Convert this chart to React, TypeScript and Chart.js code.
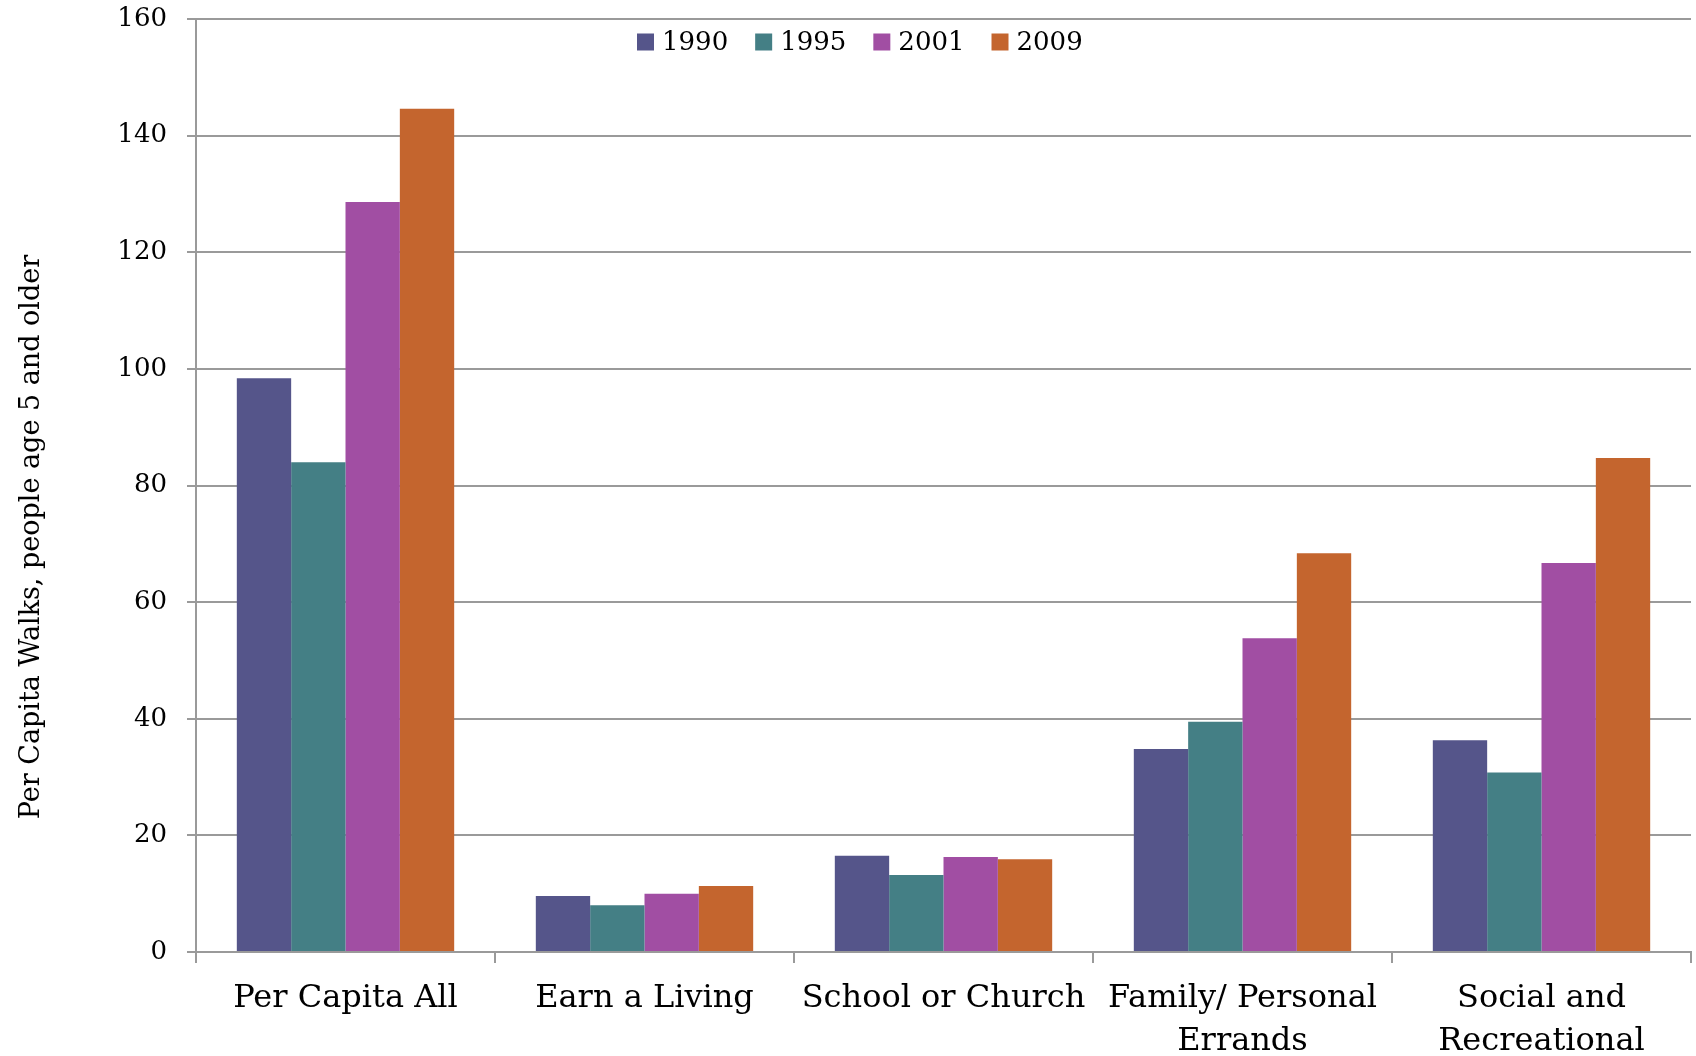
import React, { useEffect, useRef } from 'react';
import { Chart, registerables } from 'chart.js';
Chart.register(...registerables);

const categories: (string | string[])[] = [
  'Per Capita All',
  'Earn a Living',
  'School or Church',
  ['Family/ Personal', 'Errands'],
  ['Social and', 'Recreational'],
];
const seriesLabels = ['1990', '1995', '2001', '2009'];
const values1990 = [98.4, 9.6, 16.5, 34.8, 36.3];
const values1995 = [84.0, 8.0, 13.2, 39.5, 30.8];
const values2001 = [128.6, 10.0, 16.3, 53.8, 66.7];
const values2009 = [144.6, 11.3, 15.9, 68.4, 84.7];
const seriesColors = ['#55558A', '#447F85', '#A14EA3', '#C4652E'];
const yMin = 0;
const yMax = 160;
const yStep = 20;
const yAxisTitle = 'Per Capita Walks, people age 5 and older';

const FONT = '"DejaVu Serif", Georgia, serif';

const legendPlugin = {
  id: 'customLegend',
  afterDraw(chart: any) {
    const ctx = chart.ctx;
    ctx.save();
    ctx.font = `26px ${FONT}`;
    ctx.textBaseline = 'middle';
    let x = 637;
    const y = 42;
    chart.data.datasets.forEach((ds: any) => {
      ctx.fillStyle = ds.backgroundColor;
      ctx.fillRect(x, y - 8.5, 17, 17);
      x += 25;
      ctx.fillStyle = '#000';
      ctx.fillText(ds.label, x, y + 1);
      x += ctx.measureText(ds.label).width + 27;
    });
    // y-axis title
    ctx.font = `27px ${FONT}`;
    ctx.textAlign = 'center';
    ctx.fillStyle = '#000';
    ctx.translate(32, 537);
    ctx.rotate(-Math.PI / 2);
    ctx.fillText(yAxisTitle, 0, 0);
    ctx.restore();
  },
};

export default function App() {
  const ref = useRef<HTMLCanvasElement | null>(null);
  useEffect(() => {
    if (!ref.current) return;
    const allValues = [values1990, values1995, values2001, values2009];
    const chart = new Chart(ref.current, {
      type: 'bar',
      data: {
        labels: categories as any,
        datasets: seriesLabels.map((label, i) => ({
          label,
          data: allValues[i],
          backgroundColor: seriesColors[i],
          borderWidth: 0,
          categoryPercentage: 0.727,
          barPercentage: 1,
        })),
      },
      options: {
        responsive: false,
        animation: false,
        layout: { padding: { top: 19, right: 5, left: 0, bottom: 0 } },
        plugins: {
          legend: { display: false },
          tooltip: { enabled: false },
        },
        scales: {
          x: {
            offset: true,
            grid: {
              offset: true,
              drawOnChartArea: false,
              drawTicks: true,
              tickLength: 11,
              color: '#9a9a9a',
              lineWidth: 2,
            },
            border: { color: '#9a9a9a', width: 2 },
            ticks: {
              color: '#000',
              font: { family: FONT, size: 32, lineHeight: 1.35 },
              maxRotation: 0,
              minRotation: 0,
              autoSkip: false,
              padding: 14,
            },
            afterFit: (s: any) => {
              s.height = 104;
              s.paddingLeft = 0;
              s.paddingRight = 0;
            },
          },
          y: {
            min: yMin,
            max: yMax,
            ticks: {
              stepSize: yStep,
              color: '#000',
              font: { family: FONT, size: 26 },
              padding: 20,
            },
            grid: {
              color: '#9a9a9a',
              lineWidth: 2,
              drawTicks: true,
              tickLength: 9,
            },
            border: { color: '#9a9a9a', width: 2 },
            title: { display: false },
            afterFit: (s: any) => {
              s.width = 196;
              s.paddingTop = 0;
              s.paddingBottom = 0;
            },
          },
        },
      },
      plugins: [legendPlugin],
    });
    return () => chart.destroy();
  }, []);
  return (
    <div style={{ position: 'fixed', left: 0, top: 0, width: 1696, height: 1056, background: '#fff' }}>
      <canvas ref={ref} width={1696} height={1056} style={{ width: 1696, height: 1056 }} />
    </div>
  );
}
